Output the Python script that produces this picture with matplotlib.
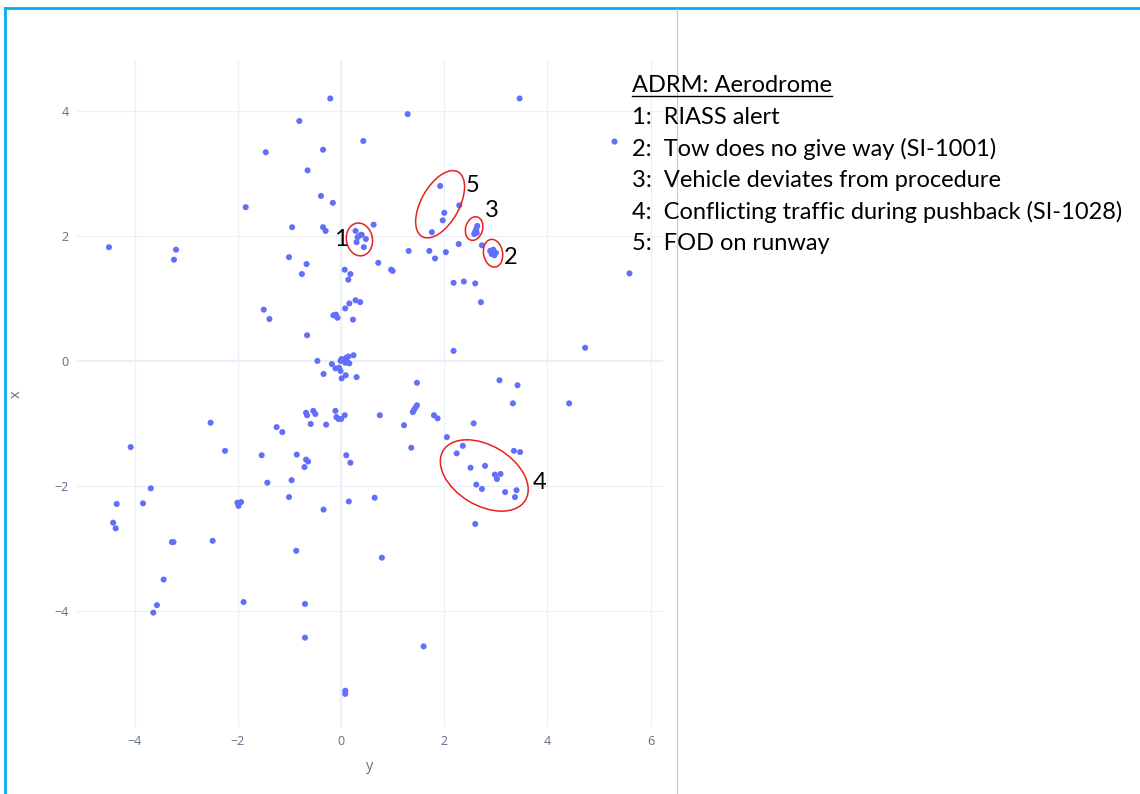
import numpy as np
import matplotlib
matplotlib.use('Agg')
import matplotlib.pyplot as plt
from matplotlib.patches import Ellipse
from matplotlib.lines import Line2D
from matplotlib.transforms import ScaledTranslation

# horizontal axis is "y", vertical axis is "x"
y_upper = [-0.21, -0.81, 0.43, -1.46, -0.35, -0.65, -1.85, -0.39, -0.16, -0.95, -0.35, -0.30, 0.63,
           0.28, 0.37, 0.40, 0.32, 0.48, 0.30, 0.44,
           -4.50, -3.20, -3.24, -1.01, -0.67, -0.76, 0.07, 0.18, 0.14, 0.72,
           -1.50, -1.39, -0.66, 0.28, 0.37, 0.16, 0.08, -0.15, -0.10, -0.07, 0.23,
           1.29, 3.46, 5.30,
           1.92, 2.29, 2.00, 1.97, 1.76,
           2.64, 2.62, 2.60, 2.58, 2.63,
           2.89, 2.95, 3.00, 2.92, 2.97,
           2.73, 2.28, 1.31, 1.71, 1.82, 2.03, 0.97, 1.00,
           2.18, 2.38, 2.60, 2.71, 5.59, 4.73, 2.18]
x_upper = [4.20, 3.84, 3.52, 3.34, 3.38, 3.05, 2.46, 2.64, 2.53, 2.14, 2.14, 2.08, 2.18,
           2.08, 2.01, 2.02, 1.98, 1.95, 1.90, 1.82,
           1.82, 1.78, 1.62, 1.66, 1.55, 1.39, 1.46, 1.39, 1.30, 1.57,
           0.82, 0.67, 0.41, 0.97, 0.94, 0.92, 0.84, 0.73, 0.74, 0.69, 0.66,
           3.95, 4.20, 3.51,
           2.80, 2.49, 2.37, 2.25, 2.06,
           2.16, 2.11, 2.07, 2.03, 2.05,
           1.76, 1.78, 1.73, 1.71, 1.69,
           1.85, 1.87, 1.76, 1.76, 1.64, 1.74, 1.46, 1.44,
           1.25, 1.27, 1.24, 0.94, 1.40, 0.21, 0.16]

y_center = [-0.46, -0.18, 0.01, 0.06, 0.10, 0.14, 0.24, 0.08, 0.16, 0.12, -0.01,
            -0.11, -0.04, -0.01, -0.34, 0.09, 0.01, 0.30]
x_center = [0.00, -0.05, 0.03, 0.01, 0.05, 0.07, 0.09, -0.03, -0.04, -0.02, 0.00,
            -0.12, -0.11, -0.16, -0.21, -0.23, -0.28, -0.26]

y_lower = [-2.53, -4.08, -2.25, -1.25, -1.14, -1.54, -1.43, -0.96, -0.86, -0.68, -0.64, -0.71,
           -1.01, -0.34, 0.10, 0.18, 0.15, 0.65,
           -0.68, -0.66, -0.54, -0.50, -0.59, -0.29, -0.11, -0.09, -0.05, 0.00, 0.07, 0.75,
           -3.69, -3.84, -4.35, -4.42, -4.37, -2.01, -1.94, -1.99, -3.28, -3.25, -2.49, -0.87,
           -3.44, -3.57, -3.64, -1.89, -0.70, -0.70, 0.08, 0.08,
           3.07, 3.42, 3.33, 4.42, 1.47, 1.39, 1.41, 1.44, 1.47, 1.22, 1.80, 1.87, 2.57,
           2.05, 1.36, 2.36, 2.24, 3.35, 3.47,
           2.51, 2.79, 2.98, 3.09, 3.02, 2.62, 2.73, 3.18, 3.40, 3.37,
           2.60, 0.79, 1.60]
x_lower = [-0.99, -1.38, -1.44, -1.06, -1.14, -1.51, -1.95, -1.91, -1.50, -1.58, -1.61, -1.70,
           -2.18, -2.38, -1.51, -1.63, -2.25, -2.19,
           -0.83, -0.87, -0.80, -0.85, -1.01, -1.02, -0.80, -0.90, -0.93, -0.93, -0.87, -0.87,
           -2.04, -2.28, -2.29, -2.59, -2.68, -2.27, -2.26, -2.32, -2.90, -2.90, -2.88, -3.04,
           -3.50, -3.91, -4.03, -3.86, -3.89, -4.43, -5.28, -5.33,
           -0.31, -0.39, -0.68, -0.68, -0.35, -0.82, -0.79, -0.75, -0.71, -1.03, -0.87, -0.92, -1.00,
           -1.22, -1.39, -1.36, -1.48, -1.44, -1.46,
           -1.71, -1.68, -1.82, -1.81, -1.89, -1.98, -2.05, -2.10, -2.07, -2.18,
           -2.61, -3.15, -4.57]

y_vals = np.array(y_upper + y_center + y_lower)
x_vals = np.array(x_upper + x_center + x_lower)

# circled groups: label, ellipse centre, label position
group_labels = ['1', '5', '3', '2', '4']
group_centers = [(0.355, 1.944), (1.919, 2.507), (2.578, 2.118), (2.946, 1.723), (2.775, -1.834)]
label_pos = [(0.0, 1.95), (2.54, 2.81), (2.93, 2.40), (3.28, 1.66), (3.84, -1.94)]
# width, height in pixels, angle
ell_shape = [(26, 33, 10), (74, 38, 61), (17, 24, -15), (19, 28, 10), (96, 60, -31)]

legend_title = 'ADRM: Aerodrome'
legend_lines = ['1:  RIASS alert',
                '2:  Tow does no give way (SI-1001)',
                '3:  Vehicle deviates from procedure',
                '4:  Conflicting traffic during pushback (SI-1028)',
                '5:  FOD on runway']

fig = plt.figure(figsize=(11.4, 7.94), dpi=100)
ax = fig.add_axes([77 / 1140, 1 - 727 / 794, 586 / 1140, 666 / 794])

grid_c = '#EBF0F8'
tick_c = '#5d6f88'
ax.set_xlim(-5.12, 6.24)
ax.set_ylim(-5.86, 4.80)
ax.set_xticks([-4, -2, 0, 2, 4, 6])
ax.set_yticks([-4, -2, 0, 2, 4])
ax.grid(True, color=grid_c, linewidth=0.9)
ax.axhline(0, color=grid_c, linewidth=1.5, zorder=0.5)
ax.axvline(0, color=grid_c, linewidth=1.5, zorder=0.5)
ax.set_axisbelow(True)
for s in ax.spines.values():
    s.set_visible(False)
ax.tick_params(length=0, labelsize=9, labelcolor=tick_c, pad=6)
for lab in ax.get_xticklabels() + ax.get_yticklabels():
    lab.set_fontfamily('Open Sans')
ax.set_xlabel('y', fontsize=10.5, color=tick_c, family='Open Sans', labelpad=8)
ax.set_ylabel('x', fontsize=10.5, color=tick_c, family='Open Sans', labelpad=22)

ax.scatter(y_vals, x_vals, s=19, color='#636efa', edgecolors='none', zorder=3)

for lab, c, lp, sh in zip(group_labels, group_centers, label_pos, ell_shape):
    tr = fig.dpi_scale_trans + ScaledTranslation(c[0], c[1], ax.transData)
    e = Ellipse((0, 0), sh[0] / 100, sh[1] / 100, angle=sh[2], transform=tr,
                fill=False, edgecolor='#e8211e', linewidth=1.1, zorder=4)
    ax.add_patch(e)
    ax.text(lp[0], lp[1], lab, fontsize=17, family='Lato', ha='center', va='center',
            color='black', zorder=5)

# legend text box
tx = 632 / 1140
title = fig.text(tx, 1 - 86 / 794, legend_title, fontsize=17, family='Lato', va='center')
for i, t in enumerate(legend_lines):
    fig.text(tx, 1 - (117.5 + 31.5 * i) / 794, t, fontsize=17, family='Lato', va='center')

# frame and divider
fig.add_artist(Line2D([5 / 1140, 1], [1 - 8 / 794, 1 - 8 / 794], color='#00B0F0', linewidth=2))
fig.add_artist(Line2D([5 / 1140, 5 / 1140], [0, 1 - 8 / 794], color='#00B0F0', linewidth=2))
fig.add_artist(Line2D([677 / 1140, 677 / 1140], [0, 1 - 9 / 794], color='#c8c8c8', linewidth=0.8))

fig.canvas.draw()
bb = title.get_window_extent(fig.canvas.get_renderer())
fig.add_artist(Line2D([bb.x0, bb.x1], [bb.y0 + 1, bb.y0 + 1], transform=None,
                      color='black', linewidth=1))

fig.savefig('out.png', dpi=100)
